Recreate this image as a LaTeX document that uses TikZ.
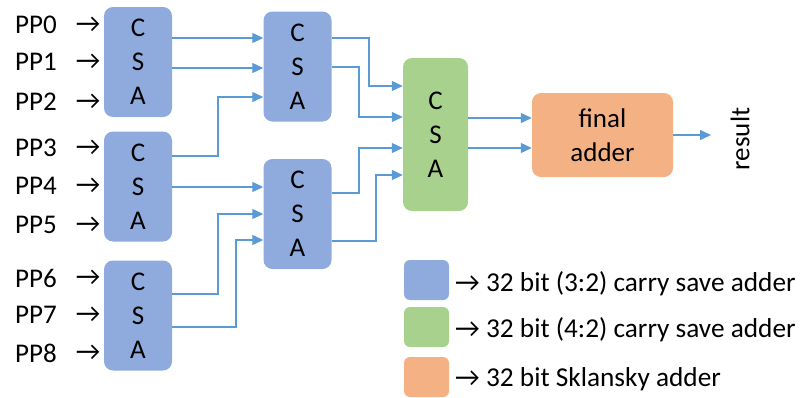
\documentclass[tikz,border=0pt]{standalone}
\usepackage{fontspec}
\setmainfont{Carlito}
\usetikzlibrary{arrows.meta}
\definecolor{csablue}{HTML}{8FAADC}
\definecolor{csagreen}{HTML}{A9D18E}
\definecolor{skorange}{HTML}{F4B183}
\definecolor{wireblue}{HTML}{5B9BD5}
\begin{document}
\begin{tikzpicture}[x=1pt,y=-1pt,
  box/.style={rounded corners=9pt, inner sep=0pt, align=center,
    font=\fontsize{27}{34}\selectfont},
  csa/.style={box, fill=csablue, minimum width=68pt, minimum height=110pt},
  csafour/.style={box, fill=csagreen, minimum width=65pt, minimum height=153pt},
  finaladd/.style={box, fill=skorange, minimum width=141pt, minimum height=84pt},
  wire/.style={draw=wireblue, line width=1.2pt, -{Triangle[length=11pt,width=10pt]}},
  pplabel/.style={anchor=west, inner sep=0pt, font=\fontsize{27}{30}\selectfont},
  inarrow/.style={inner sep=0pt, font=\fontsize{27}{30}\selectfont},
  keybox/.style={rounded corners=6pt, minimum width=45pt, minimum height=40pt, inner sep=0pt},
  keytext/.style={anchor=base west, inner sep=0pt, font=\fontsize{27.3}{30}\selectfont},
]
\useasboundingbox (0,0) rectangle (809,397);

% partial product inputs
\foreach \name/\y in {0/25,1/62,2/102,3/148,4/186,5/225,6/278,7/315,8/353}{
  \node[pplabel] (pp\name) at (15,\y) {PP\name};
  \node[inarrow] (ar\name) at (88,\y) {→};
}

% first level of (3:2) adders
\node[csa] (b1) at (138,62) {C\\S\\A};
\node[csa] (b3) at (138,186.5) {C\\S\\A};
\node[csa] (b5) at (138,315.5) {C\\S\\A};
% second level
\node[csa] (b2) at (297.5,66.5) {C\\S\\A};
\node[csa] (b4) at (297.5,214) {C\\S\\A};
% (4:2) compressor and final adder
\node[csafour] (g) at (435.5,134.5) {C\\S\\A};
\node[finaladd] (fa) at (602.5,135) {final\\adder};
\node[rotate=90, inner sep=0pt, font=\fontsize{27}{30}\selectfont] (res) at (740,139) {result};
\coordinate (rtip) at (711,135);

% wiring
\draw[wire] (b1.east |- 0,38) -- (b2.west |- 0,38);
\draw[wire] (b1.east |- 0,68) -- (b2.west |- 0,68);
\draw[wire] (b3.east |- 0,156) -| (218,97) -- (b2.west |- 0,97);
\draw[wire] (b3.east |- 0,187) -- (b4.west |- 0,187);
\draw[wire] (b5.east |- 0,294) -| (218,214) -- (b4.west |- 0,214);
\draw[wire] (b5.east |- 0,327) -| (236,240) -- (b4.west |- 0,240);
\draw[wire] (b2.east |- 0,38) -| (369,86) -- (g.west |- 0,86);
\draw[wire] (b2.east |- 0,67) -| (359,117) -- (g.west |- 0,117);
\draw[wire] (b4.east |- 0,193) -| (359,148) -- (g.west |- 0,148);
\draw[wire] (b4.east |- 0,241) -| (376,175) -- (g.west |- 0,175);
\draw[wire] (g.east |- 0,118) -- (fa.west |- 0,118);
\draw[wire] (g.east |- 0,148) -- (fa.west |- 0,148);
\draw[wire] (fa.east |- 0,135) -- (rtip);

% key
\node[keybox, fill=csablue] (k1) at (426.5,280) {};
\node[keybox, fill=csagreen] (k2) at (426.5,327) {};
\node[keybox, fill=skorange] (k3) at (426.5,377) {};
\node[keytext] (t1) at (455,291) {→ 32 bit (3:2) carry save adder};
\node[keytext] (t2) at (455,337) {→ 32 bit (4:2) carry save adder};
\node[keytext] (t3) at (455,386) {→ 32 bit Sklansky adder};
\end{tikzpicture}
\end{document}
